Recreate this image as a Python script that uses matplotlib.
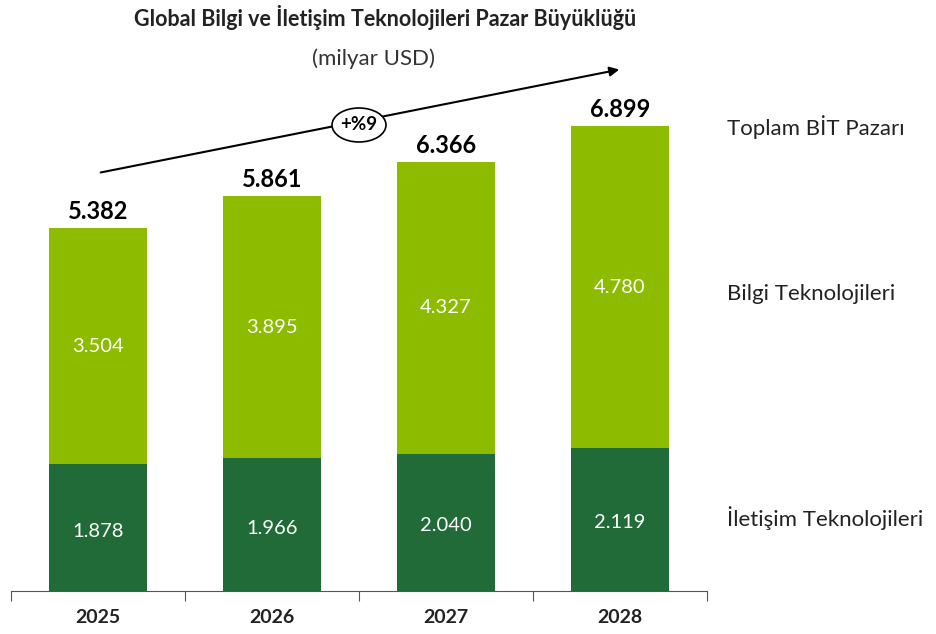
import matplotlib.pyplot as plt
from matplotlib.patches import Ellipse

years = ["2025", "2026", "2027", "2028"]
iletisim = [1.878, 1.966, 2.040, 2.119]
bilgi = [3.504, 3.895, 4.327, 4.780]
toplam = [5.382, 5.861, 6.366, 6.899]
series_labels = ["Toplam BİT Pazarı", "Bilgi Teknolojileri", "İletişim Teknolojileri"]
growth_label = "+%9"

LIGHT = "#8cbb00"
DARK = "#206b38"

plt.rcParams["font.family"] = ["Lato", "DejaVu Sans"]

W, H = 936, 634
fig = plt.figure(figsize=(W / 100, H / 100), dpi=100)

# axes placed in pixel coordinates: x from 11 to 707, baseline at y=591
base_y = 591
top_y = 60
ax = fig.add_axes([11 / W, (H - base_y) / H, (707 - 11) / W, (base_y - top_y) / H])
ymax = (base_y - top_y) / 67.4
ax.set_xlim(-0.5, len(years) - 0.5)
ax.set_ylim(0, ymax)

x = list(range(len(years)))
ax.bar(x, iletisim, width=0.56, color=DARK, zorder=2)
ax.bar(x, bilgi, width=0.56, bottom=iletisim, color=LIGHT, zorder=2)

for i in x:
    ax.text(i, iletisim[i] / 2 - 0.05, f"{iletisim[i]:.3f}", ha="center", va="center",
            color="white", fontsize=14.5)
    ax.text(i, iletisim[i] + bilgi[i] / 2, f"{bilgi[i]:.3f}", ha="center", va="center",
            color="white", fontsize=14.5)
    ax.text(i, toplam[i] + 0.08, f"{toplam[i]:.3f}", ha="center", va="bottom",
            color="black", fontsize=17, fontweight="bold")

for s in ["top", "right", "left"]:
    ax.spines[s].set_visible(False)
ax.spines["bottom"].set_color("#555555")
ax.set_yticks([])
ax.set_xticks([v - 0.5 for v in range(len(years) + 1)])
ax.set_xticklabels([])
ax.tick_params(axis="x", length=7, color="#555555")
for i, y in enumerate(years):
    ax.text(i, -0.4, y, ha="center", va="center", fontsize=14, fontweight="bold",
            color="#222222")

# growth arrow with ellipse label
fig_ax = fig.add_axes([0, 0, 1, 1], facecolor="none")
fig_ax.set_xlim(0, W)
fig_ax.set_ylim(H, 0)
fig_ax.axis("off")
fig_ax.annotate("", xy=(622, 69), xytext=(98, 173),
                arrowprops=dict(arrowstyle="-|>", color="black", lw=1.5,
                                mutation_scale=14))
fig_ax.add_patch(Ellipse((359, 125), 54, 34, facecolor="white", edgecolor="black",
                         lw=1.2, zorder=3))
fig_ax.text(359, 125, growth_label, ha="center", va="center", fontsize=13.5,
            fontweight="bold", zorder=4)

fig.text(385 / W, 1 - 18 / H, "Global Bilgi ve İletişim Teknolojileri Pazar Büyüklüğü",
         ha="center", va="center", fontsize=15.5, fontweight="bold", color="#222222")
fig.text(373 / W, 1 - 59 / H, "(milyar USD)", ha="center", va="center",
         fontsize=16, color="#333333")

for lbl, yy in zip(series_labels, [127, 294, 518]):
    fig.text(727 / W, 1 - yy / H, lbl, ha="left", va="center", fontsize=16,
             color="#222222")

fig.savefig("out.png", dpi=100)
